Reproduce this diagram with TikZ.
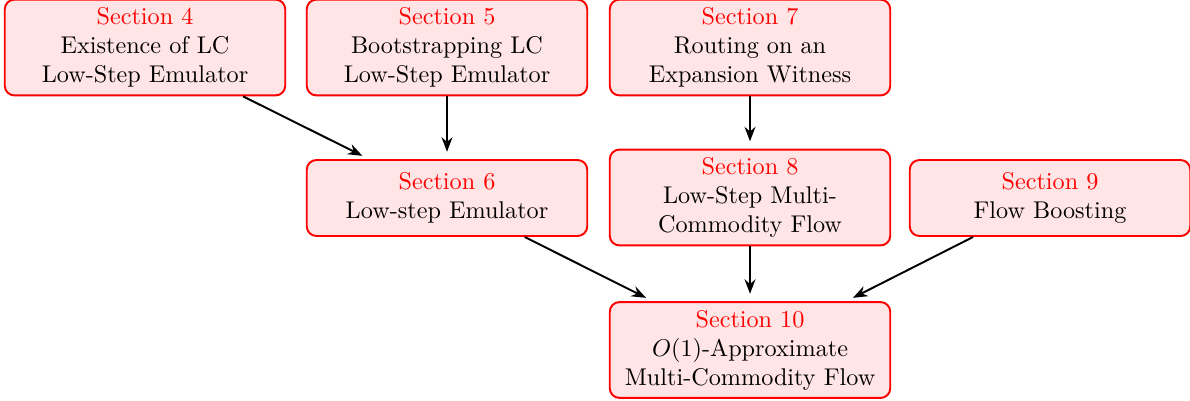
\documentclass[tikz,border=0pt]{standalone}
\usetikzlibrary{arrows.meta}
\begin{document}
\begin{tikzpicture}[x=0.4132pt,y=-0.4132pt,
  secbox/.style={draw=red,fill=red!10,thick,rounded corners=4pt,align=center,
    minimum width=115.9pt,inner sep=2pt},
  tall/.style={minimum height=39.6pt},
  short/.style={minimum height=31.4pt},
  arr/.style={-{Stealth[length=6pt,width=4.5pt]},thick,shorten >=3pt}]
\useasboundingbox (0,0) rectangle (1190,400);
\newcommand{\sect}[1]{\textcolor{red}{Section #1}}
\node[secbox,tall]  (s4)  at (145,47.5) {\sect{4}\\Existence of LC\\Low-Step Emulator};
\node[secbox,tall]  (s5)  at (447,47.5) {\sect{5}\\Bootstrapping LC\\Low-Step Emulator};
\node[secbox,tall]  (s7)  at (750,47.5) {\sect{7}\\Routing on an\\Expansion Witness};
\node[secbox,short] (s6)  at (447,198) {\sect{6}\\Low-step Emulator};
\node[secbox,tall]  (s8)  at (750,197.5) {\sect{8}\\Low-Step Multi-\\Commodity Flow};
\node[secbox,short] (s9)  at (1050,198) {\sect{9}\\Flow Boosting};
\node[secbox,tall]  (s10) at (750,350) {\sect{10}\\$O(1)$-Approximate\\Multi-Commodity Flow};
\draw[arr] (s4) -- (s6);
\draw[arr] (s5) -- (s6);
\draw[arr] (s7) -- (s8);
\draw[arr] (s6) -- (s10);
\draw[arr] (s8) -- (s10);
\draw[arr] (s9) -- (s10);
\end{tikzpicture}
\end{document}
